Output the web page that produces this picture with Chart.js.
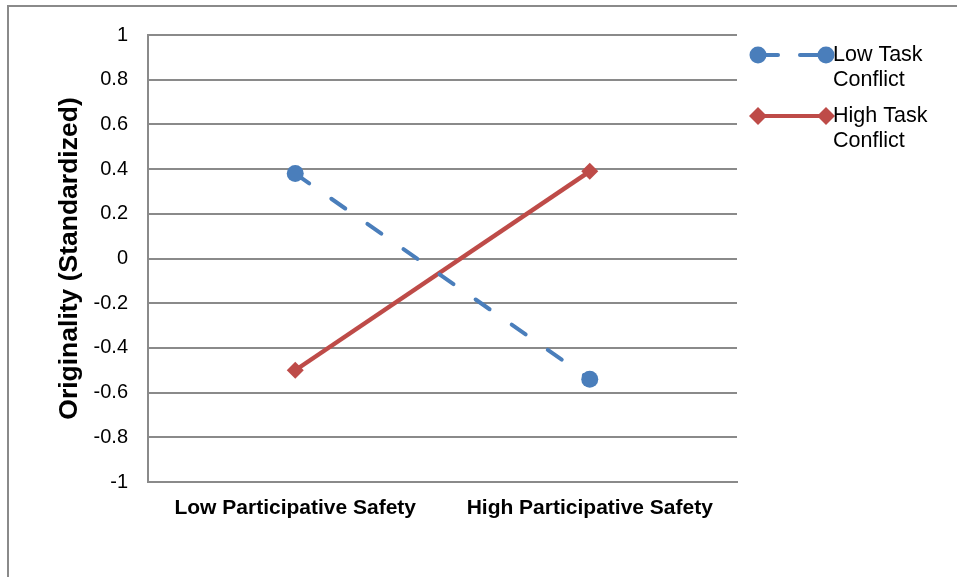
<!DOCTYPE html>
<html>
<head>
<meta charset="utf-8">
<script src="https://cdn.jsdelivr.net/npm/chart.js@4.4.0/dist/chart.umd.min.js"></script>
<style>
html,body{margin:0;padding:0;background:#fff;}
#wrap{position:relative;width:957px;height:577px;}
</style>
</head>
<body>
<div id="wrap"><canvas id="c" width="957" height="577"></canvas></div>
<script>
const categories = ['Low Participative Safety', 'High Participative Safety'];
const lowTaskConflict = [0.38, -0.54];
const highTaskConflict = [-0.50, 0.39];
const seriesNames = [['Low Task', 'Conflict'], ['High Task', 'Conflict']];
const yTitle = 'Originality (Standardized)';
const yMin = -1, yMax = 1, yStep = 0.2;

const BLUE = '#4a7ebb';
const RED = '#be4b48';
const GRID = '#8a8a8a';
const FONT = "'Liberation Sans', Arial, sans-serif";

const framePlugin = {
  id: 'frame',
  beforeDraw(chart) {
    const ctx = chart.ctx;
    ctx.save();
    ctx.fillStyle = '#fff';
    ctx.fillRect(0, 0, chart.width, chart.height);
    ctx.strokeStyle = '#8a8a8a';
    ctx.lineWidth = 2;
    ctx.strokeRect(8, 6, chart.width + 20, chart.height + 20);
    ctx.restore();
  }
};

const legendPlugin = {
  id: 'customLegend',
  afterDraw(chart) {
    const ctx = chart.ctx;
    ctx.save();
    const items = [
      {y: 55, color: BLUE, dash: true, style: 'circle', names: seriesNames[0]},
      {y: 116, color: RED, dash: false, style: 'rectRot', names: seriesNames[1]}
    ];
    items.forEach(it => {
      ctx.strokeStyle = it.color;
      ctx.lineWidth = 4;
      ctx.lineCap = 'round';
      ctx.setLineDash([]);
      if (it.dash) {
        ctx.beginPath(); ctx.moveTo(758, it.y); ctx.lineTo(778, it.y); ctx.stroke();
        ctx.beginPath(); ctx.moveTo(800, it.y); ctx.lineTo(826, it.y); ctx.stroke();
      } else {
        ctx.beginPath(); ctx.moveTo(758, it.y); ctx.lineTo(826, it.y); ctx.stroke();
      }
      ctx.fillStyle = it.color;
      [758, 826].forEach(x => {
        ctx.beginPath();
        if (it.style === 'circle') {
          ctx.arc(x, it.y, 8.5, 0, Math.PI * 2);
        } else {
          const r = 9;
          ctx.moveTo(x, it.y - r); ctx.lineTo(x + r, it.y); ctx.lineTo(x, it.y + r); ctx.lineTo(x - r, it.y); ctx.closePath();
        }
        ctx.fill();
      });
      ctx.fillStyle = '#000';
      ctx.font = '21.5px ' + FONT;
      ctx.textBaseline = 'middle';
      ctx.textAlign = 'left';
      ctx.fillText(it.names[0], 833, it.y);
      ctx.fillText(it.names[1], 833, it.y + 25);
    });
    ctx.restore();
  }
};

new Chart(document.getElementById('c'), {
  type: 'line',
  data: {
    labels: categories,
    datasets: [
      {
        label: seriesNames[0].join(' '),
        data: lowTaskConflict,
        borderColor: BLUE,
        backgroundColor: BLUE,
        borderWidth: 4,
        borderDash: [17, 27],
        borderCapStyle: 'round',
        pointStyle: 'circle',
        pointRadius: 8.5,
        pointHoverRadius: 8.5,
        pointBorderWidth: 0,
        tension: 0
      },
      {
        label: seriesNames[1].join(' '),
        data: highTaskConflict,
        borderColor: RED,
        backgroundColor: RED,
        borderWidth: 4.5,
        pointStyle: 'rectRot',
        pointRadius: 8.5,
        pointHoverRadius: 8.5,
        pointBorderWidth: 0,
        tension: 0
      }
    ]
  },
  options: {
    responsive: false,
    animation: false,
    devicePixelRatio: 1,
    layout: {padding: {top: 35, right: 220, left: 0, bottom: 0}},
    plugins: {legend: {display: false}, tooltip: {enabled: false}},
    scales: {
      x: {
        type: 'category',
        offset: true,
        afterFit(s) { s.height = 577 - 482; },
        grid: {display: false, drawTicks: false},
        border: {display: true, color: GRID, width: 2},
        ticks: {font: {family: FONT, size: 21, weight: 'bold'}, color: '#000', padding: 14, maxRotation: 0}
      },
      y: {
        min: yMin, max: yMax,
        afterFit(s) { s.width = 148; },
        afterBuildTicks(s) {
          const t = [];
          for (let i = 0; i <= Math.round((yMax - yMin) / yStep); i++) t.push({value: +(yMin + i * yStep).toFixed(1)});
          s.ticks = t;
        },
        grid: {color: GRID, lineWidth: 2, drawTicks: false},
        border: {display: true, color: GRID, width: 2},
        ticks: {
          font: {family: FONT, size: 20}, color: '#000', padding: 20,
          callback: v => (Math.abs(v) < 1e-9 ? '0' : String(+v.toFixed(1)))
        },
        title: {
          display: true, text: yTitle, color: '#000',
          font: {family: FONT, size: 26.5, weight: 'bold'},
          padding: {top: 54, bottom: 0}
        }
      }
    }
  },
  plugins: [framePlugin, legendPlugin]
});
</script>
</body>
</html>
